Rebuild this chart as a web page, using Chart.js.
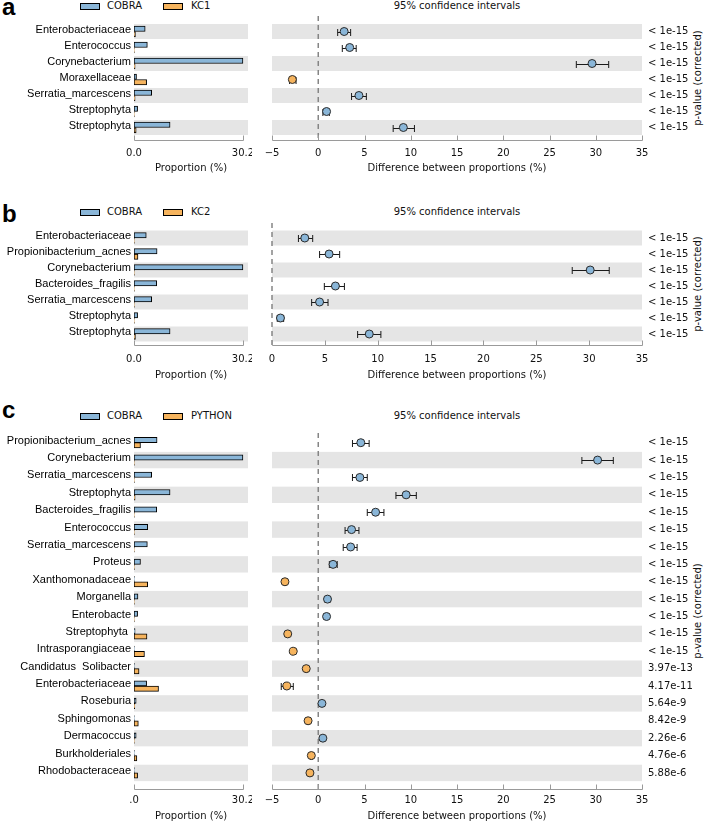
<!DOCTYPE html>
<html>
<head>
<meta charset="utf-8">
<script src="https://cdn.jsdelivr.net/npm/chart.js@4.4.1/dist/chart.umd.min.js"></script>
<style>
  html, body { margin: 0; padding: 0; background: #fff; }
  #page { position: relative; width: 709px; height: 824px; overflow: hidden; font-family: 'DejaVu Sans', sans-serif; color: #111; }
  canvas { position: absolute; }
  .tag { position: absolute; left: 2px; font: bold 24px 'Liberation Sans', Arial, sans-serif; line-height: 24px; color: #000; }
  .key { position: absolute; width: 18px; height: 5px; border: 1px solid #000; }
  .keytxt { position: absolute; font-size: 10px; line-height: 12px; }
  .ci { position: absolute; left: 272px; width: 370px; text-align: center; font-size: 10px; line-height: 12px; }
  .pv { position: absolute; left: 638px; width: 120px; height: 12px; text-align: center; font-size: 10px; line-height: 12px; transform: rotate(-90deg); white-space: nowrap; }
</style>
</head>
<body>
<div id="page"></div>
<script>
// ---- data ----
const blue = '#8ab6d8';
const orange = '#f6b45e';

const propTicks = [0, 30.2];
const diffTicks = [-5, 0, 5, 10, 15, 20, 25, 30, 35];
const diffTicksB = [0, 5, 10, 15, 20, 25, 30, 35];

// panel a : COBRA vs KC1
const labelsA = ['Enterobacteriaceae', 'Enterococcus', 'Corynebacterium', 'Moraxellaceae', 'Serratia_marcescens', 'Streptophyta', 'Streptophyta'];
const cobraA = [3.1, 3.7, 30.2, 0.7, 4.9, 1.0, 10.0];
const kc1A = [0.4, 0.1, 0.3, 3.5, 0.3, 0.1, 0.6];
const diffA = [2.8, 3.4, 29.6, -2.8, 4.4, 0.9, 9.2];
const lowA = [2.1, 2.6, 27.9, -3.1, 3.6, 0.5, 8.1];
const highA = [3.5, 4.1, 31.4, -2.4, 5.2, 1.2, 10.4];
const pvalA = ['< 1e-15', '< 1e-15', '< 1e-15', '< 1e-15', '< 1e-15', '< 1e-15', '< 1e-15'];

// panel b : COBRA vs KC2
const labelsB = ['Enterobacteriaceae', 'Propionibacterium_acnes', 'Corynebacterium', 'Bacteroides_fragilis', 'Serratia_marcescens', 'Streptophyta', 'Streptophyta'];
const cobraB = [3.4, 6.4, 30.2, 6.3, 4.9, 1.0, 10.0];
const kc2B = [0.1, 1.1, 0.1, 0.1, 0.1, 0.1, 0.4];
const diffB = [3.1, 5.4, 30.1, 6.0, 4.5, 0.8, 9.2];
const lowB = [2.5, 4.5, 28.4, 4.95, 3.75, 0.5, 8.1];
const highB = [3.85, 6.4, 31.9, 6.85, 5.3, 1.1, 10.3];
const pvalB = ['< 1e-15', '< 1e-15', '< 1e-15', '< 1e-15', '< 1e-15', '< 1e-15', '< 1e-15'];

// panel c : COBRA vs PYTHON
const labelsC = ['Propionibacterium_acnes', 'Corynebacterium', 'Serratia_marcescens', 'Streptophyta', 'Bacteroides_fragilis',
  'Enterococcus', 'Serratia_marcescens', 'Proteus', 'Xanthomonadaceae', 'Morganella', 'Enterobacte', 'Streptophyta ',
  'Intrasporangiaceae', 'Candidatus  Solibacter', 'Enterobacteriaceae', 'Roseburia', 'Sphingomonas', 'Dermacoccus',
  'Burkholderiales', 'Rhodobacteraceae'];
const cobraC = [6.4, 30.2, 4.9, 10.0, 6.3, 3.8, 3.7, 1.8, 0.1, 1.1, 1.0, 0.3, 0.1, 0.1, 3.5, 0.6, 0.1, 0.6, 0.1, 0.1];
const pythonC = [1.8, 0.1, 0.1, 0.3, 0.1, 0.1, 0.1, 0.1, 3.8, 0.1, 0.1, 3.6, 2.9, 1.4, 6.8, 0.2, 1.2, 0.1, 0.8, 1.0];
const diffC = [4.6, 30.2, 4.5, 9.5, 6.2, 3.6, 3.5, 1.6, -3.6, 1.0, 0.9, -3.3, -2.7, -1.3, -3.4, 0.4, -1.1, 0.5, -0.75, -0.9];
const lowC = [3.7, 28.5, 3.7, 8.4, 5.3, 2.9, 2.7, 1.2, -3.7, 0.75, 0.65, -3.4, -2.8, -1.4, -4.0, 0.3, -1.2, 0.4, -0.85, -1.0];
const highC = [5.5, 31.9, 5.3, 10.6, 7.1, 4.4, 4.2, 2.05, -3.5, 1.25, 1.15, -3.2, -2.6, -1.2, -2.7, 0.5, -1.0, 0.6, -0.65, -0.8];
const pvalC = ['< 1e-15', '< 1e-15', '< 1e-15', '< 1e-15', '< 1e-15', '< 1e-15', '< 1e-15', '< 1e-15', '< 1e-15',
  '< 1e-15', '< 1e-15', '< 1e-15', '< 1e-15', '3.97e-13', '4.17e-11', '5.64e-9', '8.42e-9', '2.26e-6', '4.76e-6', '5.88e-6'];

// ---- layout of the three panels ----
const panels = [
  { tag: 'a', other: 'KC1', labels: labelsA, cobra: cobraA, rival: kc1A, diff: diffA, low: lowA, high: highA, pval: pvalA,
    ticks: diffTicks, propLabels: ['0.0', '30.2'], head: 6, top: 16, axis: 140, row0: 31.5, rowH: 16, tickY: 153, titleY: 168, h: 40 },
  { tag: 'b', other: 'KC2', labels: labelsB, cobra: cobraB, rival: kc2B, diff: diffB, low: lowB, high: highB, pval: pvalB,
    ticks: diffTicksB, propLabels: ['0.0', '30.2'], head: 212, top: 223, axis: 345, row0: 238, rowH: 16, tickY: 359, titleY: 375, h: 40 },
  { tag: 'c', other: 'PYTHON', labels: labelsC, cobra: cobraC, rival: pythonC, diff: diffC, low: lowC, high: highC, pval: pvalC,
    ticks: diffTicks, propLabels: ['.0', '30.2'], head: 416, top: 433, axis: 789, row0: 442.7, rowH: 17.38, tickY: 800, titleY: 816, h: 35 },
];

const page = document.getElementById('page');
const tickFont = { family: "'DejaVu Sans'", size: 10 };
const nameFont = { family: "'Liberation Sans', Arial", size: 11 };

// grey bands behind alternate rows (bottom row is always grey)
const stripes = {
  id: 'stripes',
  beforeDatasetsDraw(chart, args, opts) {
    const { ctx, chartArea } = chart;
    const y = chart.scales.y;
    ctx.save();
    ctx.fillStyle = '#e5e5e5';
    for (let i = opts.rows - 1; i >= 0; i -= 2) {
      const t = y.getPixelForValue(i - 0.5);
      const b = y.getPixelForValue(i + 0.5);
      ctx.fillRect(chartArea.left, t + 0.5, chartArea.right - chartArea.left, b - t - 1);
    }
    ctx.restore();
  }
};

// dashed zero line + confidence interval whiskers
const ciBars = {
  id: 'ciBars',
  beforeDatasetsDraw(chart, args, opts) {
    const { ctx, chartArea } = chart;
    const { x, y } = chart.scales;
    const x0 = x.getPixelForValue(0);
    ctx.save();
    ctx.strokeStyle = '#858585';
    ctx.lineWidth = 1.5;
    ctx.setLineDash([5, 4]);
    ctx.beginPath();
    ctx.moveTo(x0, chartArea.top);
    ctx.lineTo(x0, chartArea.bottom);
    ctx.stroke();
    ctx.setLineDash([]);
    ctx.strokeStyle = '#1a1a1a';
    ctx.lineWidth = 1;
    opts.low.forEach((lo, i) => {
      const a = x.getPixelForValue(lo);
      const b = x.getPixelForValue(opts.high[i]);
      const yc = Math.round(y.getPixelForValue(i)) + 0.5;
      ctx.beginPath();
      ctx.moveTo(a, yc); ctx.lineTo(b, yc);
      ctx.moveTo(a, yc - 3.5); ctx.lineTo(a, yc + 3.5);
      ctx.moveTo(b, yc - 3.5); ctx.lineTo(b, yc + 3.5);
      ctx.stroke();
    });
    ctx.restore();
  }
};

// bottom spine from first to last tick, ticks pointing inwards
const axisLine = {
  id: 'axisLine',
  afterDraw(chart) {
    const { ctx, chartArea } = chart;
    const x = chart.scales.x;
    const px = x.ticks.map(t => Math.round(x.getPixelForValue(t.value)) + 0.5);
    const yb = Math.round(chartArea.bottom) + 0.5;
    ctx.save();
    ctx.strokeStyle = '#9a9a9a';
    ctx.lineWidth = 1;
    ctx.beginPath();
    ctx.moveTo(px[0], yb);
    ctx.lineTo(px[px.length - 1], yb);
    px.forEach(p => { ctx.moveTo(p, yb); ctx.lineTo(p, yb - 5); });
    ctx.stroke();
    ctx.restore();
  }
};

// fixed axis sizes, no extra room for overhanging tick labels
function fixWidth(w) {
  return s => { s.width = w; s.paddingTop = 0; s.paddingBottom = 0; };
}
function fixHeight(h) {
  return s => { s.height = h; s.paddingLeft = 0; s.paddingRight = 0; };
}

function addDiv(cls, text, style) {
  const d = document.createElement('div');
  d.className = cls;
  d.textContent = text;
  Object.assign(d.style, style);
  page.appendChild(d);
  return d;
}

function addCanvas(left, top, w, h) {
  const c = document.createElement('canvas');
  c.width = w; c.height = h;
  c.style.left = left + 'px';
  c.style.top = top + 'px';
  c.style.width = w + 'px';
  c.style.height = h + 'px';
  page.appendChild(c);
  return c;
}

function rowTicks(n) {
  return Array.from({ length: n }, (_, i) => ({ value: i }));
}

function drawPanel(p) {
  const n = p.labels.length;
  const yMin = -(p.row0 - p.top) / p.rowH;
  const yMax = yMin + (p.axis - p.top) / p.rowH;
  const canvasH = p.axis - p.top + p.h;
  const tickPad = p.tickY - p.axis - 6;
  const titlePad = p.h - 6 - (p.titleY - p.axis);

  // header: panel letter, legend, CI title
  const tagTop = { a: -5, b: 202, c: 398 }[p.tag];
  addDiv('tag', p.tag, { top: tagTop + 'px' });
  addDiv('key', '', { left: '80px', top: (p.head - 3) + 'px', background: blue });
  addDiv('keytxt', 'COBRA', { left: '107px', top: (p.head - 6) + 'px' });
  addDiv('key', '', { left: '163px', top: (p.head - 3) + 'px', background: orange });
  addDiv('keytxt', p.other, { left: '191px', top: (p.head - 6) + 'px' });
  addDiv('ci', '95% confidence intervals', { top: (p.head - 6) + 'px' });
  addDiv('pv', 'p-value (corrected)', { top: ((p.top + p.axis) / 2 - 6) + 'px' });

  // proportions (left)
  new Chart(addCanvas(0, p.top, 252, canvasH), {
    type: 'bar',
    data: {
      datasets: [
        { label: 'COBRA', data: p.cobra.map((v, i) => ({ x: v, y: i })), backgroundColor: blue,
          borderColor: '#000', borderWidth: 1, borderSkipped: false, barThickness: 5.3 },
        { label: p.other, data: p.rival.map((v, i) => ({ x: v, y: i })), backgroundColor: orange,
          borderColor: '#000', borderWidth: 1, borderSkipped: false, barThickness: 5.3 },
      ]
    },
    options: {
      indexAxis: 'y',
      responsive: false,
      animation: false,
      events: [],
      devicePixelRatio: 1,
      layout: { autoPadding: false, padding: { left: 0, right: 4, top: 0, bottom: 0 } },
      plugins: { legend: { display: false }, tooltip: { enabled: false }, stripes: { rows: n } },
      scales: {
        x: {
          type: 'linear', min: 0, max: 31.6,
          grid: { display: false, drawTicks: false, tickLength: 0 }, border: { display: false },
          afterBuildTicks: s => { s.ticks = propTicks.map(v => ({ value: v })); },
          ticks: { callback: (v, i) => p.propLabels[i], padding: tickPad, font: tickFont, color: '#111', maxRotation: 0, autoSkip: false },
          title: { display: true, text: 'Proportion (%)', font: tickFont, color: '#111', padding: { top: 0, bottom: titlePad } },
          afterFit: fixHeight(p.h)
        },
        y: {
          type: 'linear', reverse: true, min: yMin, max: yMax, offset: false,
          grid: { display: false, drawTicks: false, tickLength: 0, offset: false }, border: { display: false },
          afterBuildTicks: s => { s.ticks = rowTicks(n); },
          ticks: { callback: v => p.labels[v], autoSkip: false, padding: 3, labelOffset: -2, font: nameFont, color: '#000' },
          afterFit: fixWidth(134)
        }
      }
    },
    plugins: [stripes, axisLine]
  });

  // differences with confidence intervals (right)
  new Chart(addCanvas(262, p.top, 447, canvasH), {
    type: 'scatter',
    data: {
      datasets: [{
        data: p.diff.map((v, i) => ({ x: v, y: i })),
        backgroundColor: p.diff.map(v => (v >= 0 ? blue : orange)),
        borderColor: '#2a2a2a', borderWidth: 1, pointRadius: 4
      }]
    },
    options: {
      responsive: false,
      animation: false,
      events: [],
      devicePixelRatio: 1,
      layout: { autoPadding: false, padding: { left: 10, right: 0, top: 0, bottom: 0 } },
      plugins: {
        legend: { display: false }, tooltip: { enabled: false },
        stripes: { rows: n }, ciBars: { low: p.low, high: p.high }
      },
      scales: {
        x: {
          type: 'linear', min: p.ticks[0], max: p.ticks[p.ticks.length - 1],
          grid: { display: false, drawTicks: false, tickLength: 0 }, border: { display: false },
          afterBuildTicks: s => { s.ticks = p.ticks.map(v => ({ value: v })); },
          ticks: { callback: v => (v < 0 ? '\u2212' + (-v) : String(v)), padding: tickPad, font: tickFont, color: '#111', maxRotation: 0, autoSkip: false },
          title: { display: true, text: 'Difference between proportions (%)', font: tickFont, color: '#111', padding: { top: 0, bottom: titlePad } },
          afterFit: fixHeight(p.h)
        },
        y: { type: 'linear', display: false, reverse: true, min: yMin, max: yMax },
        yP: {
          type: 'linear', position: 'right', reverse: true, min: yMin, max: yMax,
          grid: { display: false, drawTicks: false, tickLength: 0 }, border: { display: false },
          afterBuildTicks: s => { s.ticks = rowTicks(n); },
          ticks: { callback: v => p.pval[v], autoSkip: false, padding: 6, font: tickFont, color: '#111' },
          afterFit: fixWidth(67)
        }
      }
    },
    plugins: [stripes, ciBars, axisLine]
  });
}

panels.forEach(drawPanel);
</script>
</body>
</html>
